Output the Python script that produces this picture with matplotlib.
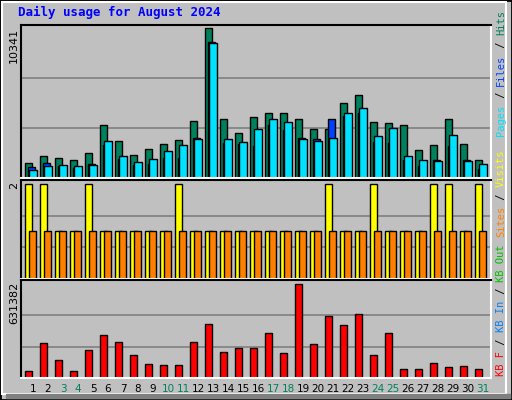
import matplotlib
matplotlib.use('Agg')
import matplotlib.pyplot as plt
import numpy as np
from matplotlib.patches import Rectangle

days = np.arange(1, 32)
hits = [1050, 1550, 1400, 1270, 1690, 3660, 2530, 1620, 1970, 2320, 2600, 3940, 10341,
        4080, 3100, 4220, 4500, 4500, 4080, 3380, 3380, 5200, 5700, 3870, 3800, 3660,
        1900, 2250, 4080, 2320, 1270]
files = [770, 1050, 840, 700, 980, 2250, 1340, 910, 980, 1410, 1410, 2740, 9350,
         2390, 2320, 2180, 3660, 3300, 2740, 2670, 4080, 4290, 4500, 2460, 2390, 1270,
         840, 1270, 2180, 1270, 630]
pages = [560, 840, 910, 840, 910, 2530, 1550, 1130, 1340, 1830, 2250, 2670, 9280,
         2670, 2460, 3380, 4080, 3870, 2670, 2530, 2740, 4500, 4850, 2880, 3450, 1550,
         1270, 1200, 2950, 1200, 980]
visits = [2, 2, 1, 1, 2, 1, 1, 1, 1, 1, 2, 1, 1, 1, 1, 1, 1, 1, 1, 1, 2, 1, 1, 2, 1, 1,
          1, 2, 2, 1, 2]
sites = [1] * 31
kbytes = [47000, 235000, 121000, 47000, 188000, 289000, 242000, 154000, 94000, 87000,
          87000, 242000, 363000, 175000, 201000, 201000, 302000, 168000, 631382, 228000,
          416000, 356000, 430000, 154000, 302000, 60000, 60000, 101000, 74000, 81000, 60000]
weekend = [3, 4, 10, 11, 17, 18, 24, 25, 31]

BG = '#c0c0c0'
W, H = 512, 400
fig = plt.figure(figsize=(5.12, 4.0), dpi=100, facecolor=BG)

# 3D style border
fig.patches.append(Rectangle((0, 0), 1, 1, transform=fig.transFigure, fill=False,
                             lw=2, ec='black'))
fig.patches.append(Rectangle((2/W, 6/H), (W-8)/W, (H-8)/H, transform=fig.transFigure,
                             fill=False, lw=1.5, ec='white'))
fig.patches.append(Rectangle((6/W, 2/H), (W-8)/W, 4/H, transform=fig.transFigure,
                             color='#808080'))


def panel(top, bottom):
    ax = fig.add_axes([21/W, 1-bottom/H, (491-21)/W, (bottom-top)/H], facecolor=BG)
    ax.set_xlim(0.2, 31.53)
    ax.set_xticks([])
    ax.set_yticks([])
    for s in ax.spines.values():
        s.set_color('black')
        s.set_linewidth(1.5)
    ax.spines['bottom'].set_color('white')
    ax.spines['right'].set_color('white')
    return ax


bk = dict(edgecolor='black', linewidth=1, align='edge')

ax1 = panel(25, 178)
ax1.set_ylim(0, 10341 * 1.02)
for g in (10341/3, 2*10341/3):
    ax1.axhline(g, color='#808080', lw=1.2, zorder=0)
ax1.bar(days - 0.55, hits, 0.5, color='#00805c', **bk)
ax1.bar(days - 0.33, files, 0.45, color='#0040ff', **bk)
ax1.bar(days - 0.25, pages, 0.5, color='#00e0ff', **bk)

ax2 = panel(180, 279)
ax2.set_ylim(0, 2 * 1.04)
for g in (2/3, 4/3):
    ax2.axhline(g, color='#808080', lw=1.2, zorder=0)
ax2.bar(days - 0.55, visits, 0.5, color='#ffff00', **bk)
ax2.bar(days - 0.27, sites, 0.5, color='#ff8000', **bk)

ax3 = panel(280, 378)
ax3.set_ylim(0, 631382 * 1.04)
for g in (631382/3, 2*631382/3):
    ax3.axhline(g, color='#808080', lw=1.2, zorder=0)
ax3.bar(days - 0.55, kbytes, 0.5, color='#ff0000', **bk)
ax3.set_xticks(days)
ax3.set_xticklabels([str(d) for d in days], fontsize=7.5, family='DejaVu Sans')
ax3.tick_params(length=0, pad=4)
for lab, d in zip(ax3.get_xticklabels(), days):
    lab.set_color('#00805c' if d in weekend else 'black')

mono = 'DejaVu Sans Mono'
fig.text(18/W, 1-12/H, 'Daily usage for August 2024', color='#0000ff', family=mono,
         weight='bold', fontsize=9, va='center')
fig.text(14/W, 1-28/H, '10341', rotation=90, va='top', ha='center', fontsize=8)
fig.text(14/W, 1-182/H, '2', rotation=90, va='top', ha='center', fontsize=8)
fig.text(14/W, 1-282/H, '631382', rotation=90, va='top', ha='center', fontsize=8)

STEP = 6.3


def vlabel(y_bottom, parts):
    y = y_bottom
    for txt, col in parts:
        fig.text(501/W, 1-y/H, txt, rotation=90, rotation_mode='anchor', color=col,
                 family=mono, fontsize=7.5, ha='left', va='center')
        y -= len(txt) * STEP


vlabel(136, [('Pages', '#00e0ff'), (' / ', 'black'), ('Files', '#0040ff'),
             (' / ', 'black'), ('Hits', '#00805c')])
vlabel(376, [('KB F', '#ff0000'), (' / ', 'black'), ('KB In', '#0080ff'),
             (' / ', 'black'), ('KB Out', '#00c000'), (' ', 'black'),
             ('Sites', '#ff8000'), (' / ', 'black'), ('Visits', '#ffff00')])

fig.savefig('out.png', dpi=100, facecolor=BG)
